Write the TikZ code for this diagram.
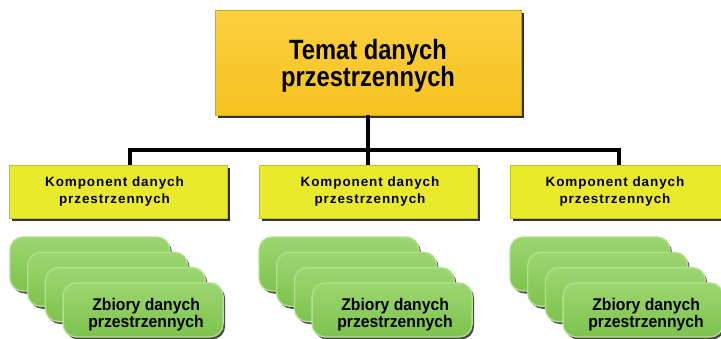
\documentclass[tikz,border=0pt]{standalone}
\usepackage{fontspec}
\setmainfont{Liberation Sans}
\newfontfamily\topfont{Liberation Sans}[FakeStretch=0.85]
\newfontfamily\kfont{Liberation Sans}[LetterSpace=7]
\newfontfamily\zfont{Liberation Sans}[FakeStretch=0.93]
\usetikzlibrary{calc,shadows}
\definecolor{toptop}{HTML}{FBD040}
\definecolor{topbot}{HTML}{F6C21F}
\definecolor{topedge}{HTML}{D9A514}
\definecolor{kfill}{HTML}{EAEA2C}
\definecolor{kedge}{HTML}{C2C21A}
\definecolor{gtop}{HTML}{9DD670}
\definecolor{gbot}{HTML}{7DC34E}
\definecolor{gedge}{HTML}{B3E090}
\begin{document}
\begin{tikzpicture}[x=1bp,y=-1bp,
  darkshadow/.style={general shadow={fill=black!80, shadow xshift=2.5bp, shadow yshift=-2.5bp}},
  topbox/.style={draw=topedge, line width=0.6bp, top color=toptop, bottom color=topbot,
    minimum width=306bp, minimum height=105bp, inner sep=0pt, darkshadow},
  toptext/.style={align=center, inner sep=0pt, font=\topfont\bfseries\fontsize{28}{20}\selectfont},
  kbox/.style={draw=kedge, line width=0.6bp, fill=kfill,
    minimum width=218bp, minimum height=53bp, inner sep=0pt, darkshadow},
  ktext/.style={align=center, inner sep=0pt, font=\kfont\bfseries\fontsize{13.5}{17}\selectfont},
  card/.style={draw=gedge, line width=1.3bp, top color=gtop, bottom color=gbot,
    rounded corners=13bp, minimum width=160bp, minimum height=54bp, inner sep=0pt,
    general shadow={fill=black!70, shadow xshift=2bp, shadow yshift=-2.5bp}},
  ztext/.style={align=center, inner sep=0pt, font=\zfont\bfseries\fontsize{17}{14}\selectfont},
  bus/.style={draw=black, line width=3.5bp, line join=miter}
]
\useasboundingbox (0,0) rectangle (721,338);
\clip (0,0) rectangle (721,338);

% top box
\node[topbox] (top) at (368,62.5) {};
\node[toptext] (topT) at ($(top.center)+(0,3)$) {Temat danych\\przestrzennych};

% component boxes
\node[kbox] (k1) at (118.5,191.5) {};
\node[kbox] (k2) at (368,191.5) {};
\node[kbox] (k3) at (619,191.5) {};
\node[ktext] (k1T) at ($(k1.center)+(-4,0)$) {Komponent danych\\przestrzennych};
\node[ktext] (k2T) at ($(k2.center)+(2,0)$) {Komponent danych\\przestrzennych};
\node[ktext] (k3T) at ($(k3.center)+(-4,0)$) {Komponent danych\\przestrzennych};

% connectors
\coordinate (busy) at (0,150);
\draw[bus] (top.south) -- (k2.north);
\draw[bus] ([xshift=11.5bp]k1.north) -- ([xshift=11.5bp]k1.north |- busy) -- (k3.north |- busy) -- (k3.north);

% card stacks
\foreach \s/\bx in {1/90, 2/339, 3/590} {
  \foreach \i in {0,1,2,3} {
    \node[card] (c\s\i) at ({\bx+17.7*\i},{264+15.3*\i}) {};
  }
  \node[ztext] (z\s) at ($(c\s3.center)+(3,5)$) {Zbiory danych\\przestrzennych};
}
\end{tikzpicture}
\end{document}
